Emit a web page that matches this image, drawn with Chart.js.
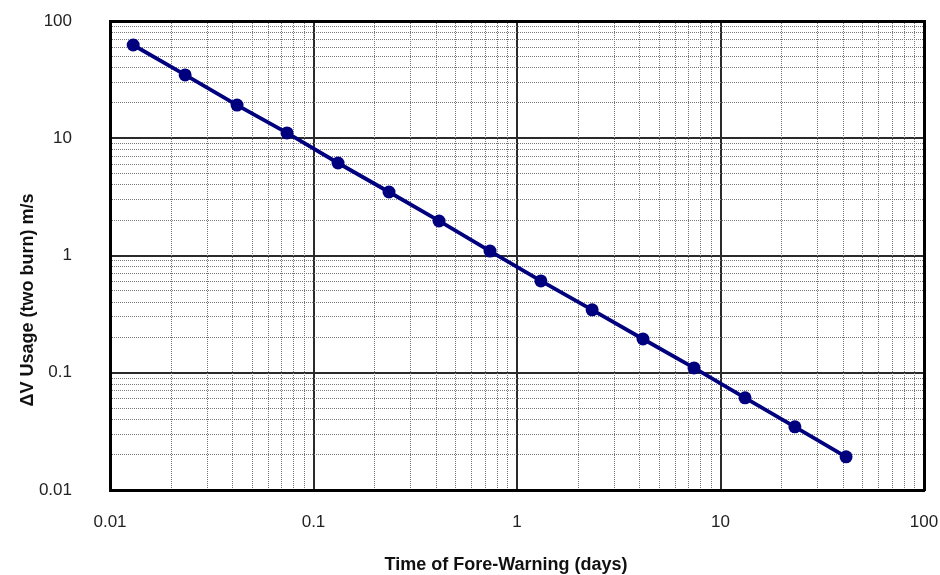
<!DOCTYPE html>
<html><head><meta charset="utf-8">
<script src="https://cdn.jsdelivr.net/npm/chart.js@4.4.1/dist/chart.umd.min.js"></script>
<style>html,body{margin:0;padding:0;background:#fff}#wrap{width:940px;height:575px}</style>
</head><body><div id="wrap"><canvas id="c" width="940" height="575"></canvas></div>
<script>
// ---- data ----
const timeDays = [0.0130, 0.0234, 0.0421, 0.0741, 0.132, 0.235, 0.414, 0.737, 1.31, 2.34, 4.16, 7.41, 13.2, 23.2, 41.4];
const deltaV   = [62.4, 34.7, 19.2, 11.1, 6.15, 3.48, 1.97, 1.09, 0.607, 0.344, 0.194, 0.110, 0.0611, 0.0346, 0.0192];
const decadeValues = [0.01, 0.1, 1, 10, 100];
const xTickLabels  = ['0.01', '0.1', '1', '10', '100'];
const yTickLabels  = ['0.01', '0.1', '1', '10', '100'];
const xTitle = 'Time of Fore-Warning (days)';
const yTitle = '\u0394V Usage (two burn) m/s';

const FONT = '"Liberation Sans", Arial, Helvetica, sans-serif';
const NAVY = '#00007f';

function isDecade(v){ const l = Math.log10(v); return Math.abs(l - Math.round(l)) < 1e-9; }
function logTicks(){
  const out = [];
  for (let i = 0; i < decadeValues.length - 1; i++) {
    for (let m = 1; m <= 9; m++) out.push(+(decadeValues[i] * m).toPrecision(6));
  }
  out.push(decadeValues[decadeValues.length - 1]);
  return out.map(v => ({ value: v, major: isDecade(v) }));
}
function setTicks(scale){ scale.ticks = logTicks(); }
function labelFor(labels){
  return (value) => {
    const i = decadeValues.findIndex(d => Math.abs(d - value) / d < 1e-6);
    return i >= 0 ? labels[i] : '';
  };
}
function noPad(s){ s.paddingTop = 0; s.paddingBottom = 0; s.paddingLeft = 0; s.paddingRight = 0; }
const majorColor = (c) => (c.tick && c.tick.major) ? '#2a2a2a' : 'rgba(0,0,0,0)';
const minorColor = (c) => (c.tick && !c.tick.major) ? '#777777' : 'rgba(0,0,0,0)';

const titlesPlugin = {
  id: 'axisTitles',
  afterDraw(chart){
    const ctx = chart.ctx;
    ctx.save();
    ctx.fillStyle = '#111';
    ctx.font = 'bold 18px ' + FONT;
    ctx.textAlign = 'center';
    ctx.textBaseline = 'alphabetic';
    ctx.fillText(xTitle, 506, 570);
    ctx.translate(33, 300);
    ctx.rotate(-Math.PI / 2);
    ctx.fillText(yTitle, 0, 0);
    ctx.restore();
  }
};

new Chart(document.getElementById('c'), {
  type: 'line',
  data: {
    datasets: [{
      data: timeDays.map((t, i) => ({ x: t, y: deltaV[i] })),
      borderColor: NAVY,
      backgroundColor: NAVY,
      borderWidth: 3.8,
      pointRadius: 6.5,
      pointBackgroundColor: NAVY,
      pointBorderWidth: 0,
      tension: 0,
      fill: false
    }]
  },
  options: {
    responsive: false,
    animation: false,
    devicePixelRatio: 1,
    layout: { padding: { top: 21, right: 16, left: 0, bottom: 0 } },
    plugins: { legend: { display: false }, tooltip: { enabled: false } },
    scales: {
      x: {
        type: 'logarithmic', position: 'bottom', min: 0.01, max: 100,
        afterBuildTicks: setTicks,
        afterFit: (s) => { s.height = 85; noPad(s); },
        grid: { color: majorColor, lineWidth: 2, drawTicks: false },
        border: { display: true, color: '#000', width: 3 },
        ticks: { autoSkip: false, maxRotation: 0, minRotation: 0, padding: 22,
                 color: '#222', font: { family: FONT, size: 17 }, callback: labelFor(xTickLabels) }
      },
      y: {
        type: 'logarithmic', position: 'left', min: 0.01, max: 100,
        afterBuildTicks: setTicks,
        afterFit: (s) => { s.width = 110; noPad(s); },
        grid: { color: majorColor, lineWidth: 2, drawTicks: false },
        border: { display: true, color: '#000', width: 3 },
        ticks: { autoSkip: false, padding: 38,
                 color: '#222', font: { family: FONT, size: 17 }, callback: labelFor(yTickLabels) }
      },
      x2: {
        type: 'logarithmic', position: 'top', min: 0.01, max: 100,
        afterBuildTicks: setTicks,
        afterFit: (s) => { s.height = 0; noPad(s); },
        grid: { color: minorColor, lineWidth: 1, drawTicks: false },
        border: { display: true, color: '#000', width: 3, dash: [1, 1] },
        ticks: { display: false }
      },
      y2: {
        type: 'logarithmic', position: 'right', min: 0.01, max: 100,
        afterBuildTicks: setTicks,
        afterFit: (s) => { s.width = 0; noPad(s); },
        grid: { color: minorColor, lineWidth: 1, drawTicks: false },
        border: { display: true, color: '#000', width: 3, dash: [1, 1] },
        ticks: { display: false }
      }
    }
  },
  plugins: [titlesPlugin]
});
</script>
</body></html>
